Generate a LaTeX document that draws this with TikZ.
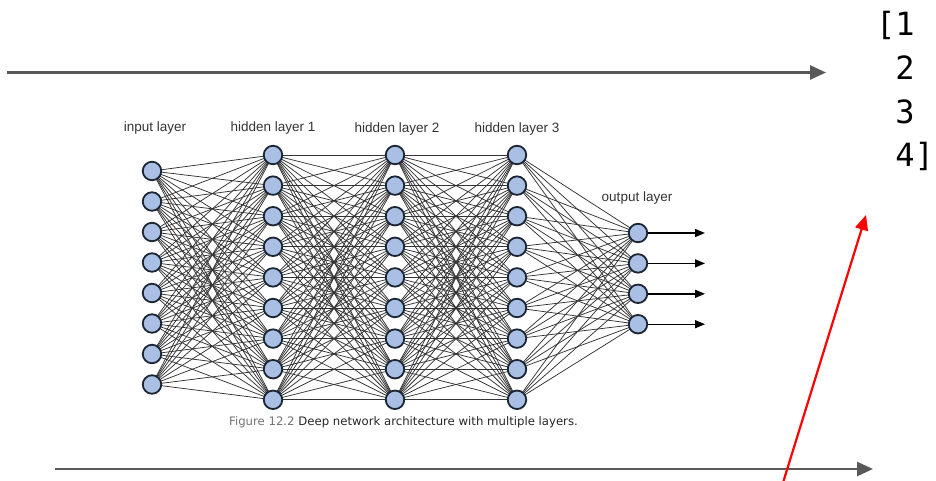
\documentclass[tikz,border=0pt]{standalone}
\usepackage{fontspec}
\setmainfont{Liberation Sans}
\newfontfamily\captionfont{DejaVu Sans}
\newfontfamily\vecfont{DejaVu Sans Mono}
\usetikzlibrary{arrows.meta,backgrounds}

\definecolor{nodefill}{HTML}{A9C0E4}
\definecolor{nodeline}{HTML}{1C2533}
\definecolor{edgegray}{HTML}{333333}
\definecolor{axisgray}{HTML}{595959}
\definecolor{labelgray}{HTML}{333333}

\begin{document}
\begin{tikzpicture}[x=1pt,y=-1pt,
  neuron/.style={circle,draw=nodeline,fill=nodefill,line width=1.8pt,
                 minimum size=18.5pt,inner sep=0pt},
  link/.style={edgegray,line width=0.75pt},
  outarrow/.style={black,line width=1.4pt,-{Triangle[length=10pt,width=8pt]}},
  axisarrow/.style={axisgray,line width=2.6pt,-{Triangle[length=16pt,width=14pt]}},
  redarrow/.style={red,line width=2.2pt,-{Triangle[length=15pt,width=13pt]}},
  layertitle/.style={font=\fontsize{13.5}{15}\selectfont,text=labelgray,
                     anchor=base,inner sep=0pt},
  vecline/.style={font=\vecfont\fontsize{32}{36}\selectfont,text=black,
                  anchor=base west,inner sep=0pt}]

\useasboundingbox (0,0) rectangle (936,481);

% layers of neurons
\foreach \i in {1,...,8}
  \node[neuron] (I\i) at (152,{171+30.5*(\i-1)}) {};
\foreach \i in {1,...,9} {
  \node[neuron] (A\i) at (273,{155+30.6*(\i-1)}) {};
  \node[neuron] (B\i) at (395,{155+30.6*(\i-1)}) {};
  \node[neuron] (C\i) at (517,{155+30.6*(\i-1)}) {};
}
\foreach \i in {1,...,4}
  \node[neuron] (O\i) at (638,{233+30.4*(\i-1)}) {};

% fully connected weights, drawn behind the neurons
\begin{pgfonlayer}{background}
  \foreach \i in {1,...,8}
    \foreach \j in {1,...,9}
      \draw[link] (I\i.center) -- (A\j.center);
  \foreach \i in {1,...,9}
    \foreach \j in {1,...,9} {
      \draw[link] (A\i.center) -- (B\j.center);
      \draw[link] (B\i.center) -- (C\j.center);
    }
  \foreach \i in {1,...,9}
    \foreach \j in {1,...,4}
      \draw[link] (C\i.center) -- (O\j.center);
\end{pgfonlayer}

% outputs
\foreach \i in {1,...,4} {
  \coordinate (E\i) at (705,{233+30.4*(\i-1)});
  \draw[outarrow] (O\i) -- (E\i);
}

% layer titles
\node[layertitle] (tin)  at (155,132) {input layer};
\node[layertitle] (th1)  at (273,132) {hidden layer 1};
\node[layertitle] (th2)  at (397,133) {hidden layer 2};
\node[layertitle] (th3)  at (517,133) {hidden layer 3};
\node[layertitle] (tout) at (637,201) {output layer};

% figure caption
\node[anchor=base,inner sep=0pt,font=\captionfont\fontsize{11.7}{13}\selectfont]
  (cap) at (403.5,425)
  {\textcolor{black!55}{Figure 12.2} \textcolor{black!85}{Deep network architecture with multiple layers.}};

% gray horizontal arrows
\coordinate (ta) at (7,72.5);
\coordinate (tb) at (826,72.5);
\draw[axisarrow] (ta) -- (tb);
\coordinate (ba) at (55,469);
\coordinate (bb) at (873,469);
\draw[axisarrow] (ba) -- (bb);

% red arrow
\coordinate (ra) at (783.5,481);
\coordinate (rb) at (866,215);
\draw[redarrow] (ra) -- (rb);

% column vector
\node[vecline] (v1) at (876,36)  {[1};
\node[vecline] (v2) at (876,80)  {\hphantom{[}2};
\node[vecline] (v3) at (876,124) {\hphantom{[}3};
\node[vecline] (v4) at (876,167) {\hphantom{[}4]};
\end{tikzpicture}
\end{document}
